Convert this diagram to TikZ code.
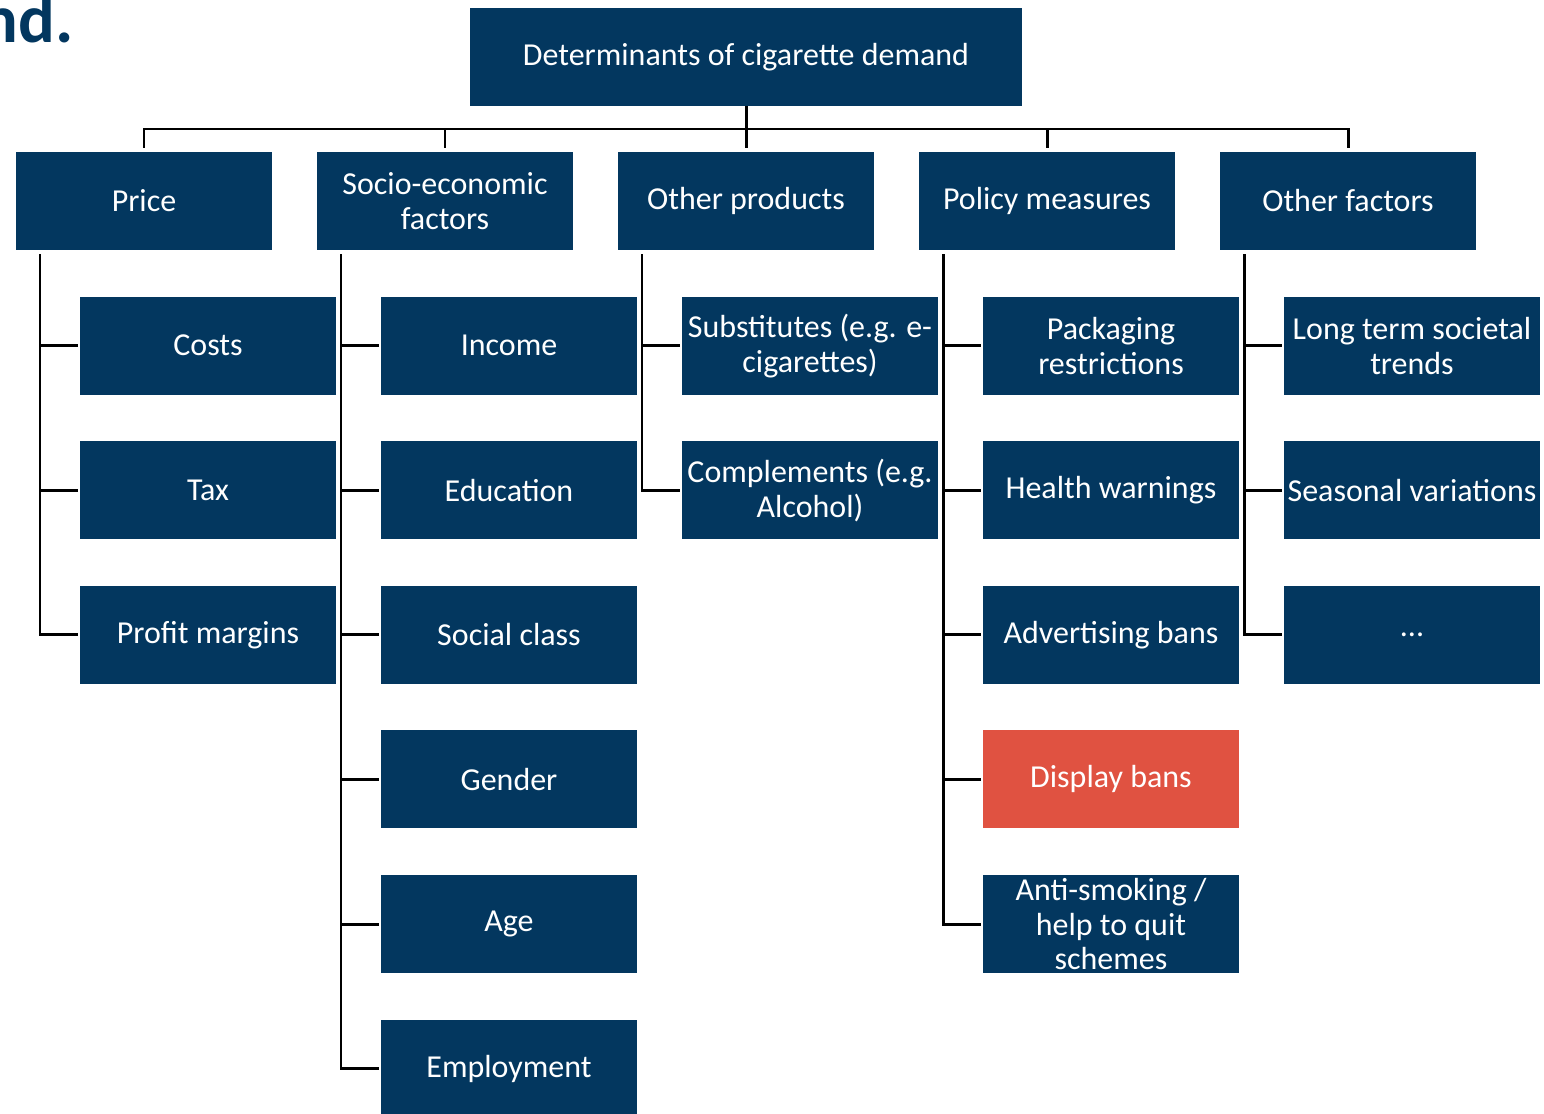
\documentclass[tikz,border=0pt]{standalone}
\usepackage{fontspec}
\setmainfont{Carlito}
\usetikzlibrary{positioning}
\definecolor{navy}{HTML}{03375F}
\definecolor{hilite}{HTML}{E05241}
\tikzset{
  box style/.style={rectangle, fill=navy, text=white, minimum width=5.12cm,
    minimum height=1.96cm, inner sep=1pt, outer sep=0pt, align=center,
    font=\fontsize{18.2}{19.9}\selectfont},
  red style/.style={box style, fill=hilite},
  link style/.style={line width=1.7pt, black}
}

\begin{document}
\begin{tikzpicture}[node distance=0.932cm]
\useasboundingbox (0,0) rectangle (30.88,-22.28);
\clip (0,0) rectangle (30.88,-22.28);
\node[anchor=base east, text=navy, font=\fontsize{39}{40}\selectfont\bfseries] (title) at (1.60,-0.84) {nd.};
\node[box style, minimum width=11.04cm] (top) at (14.92,-1.14) {Determinants of cigarette demand};
% first level
\node[box style] (price) at (2.88,-4.02) {Price};
\node[box style, right=0.9cm of price]   (socio)   {Socio-economic\\factors};
\node[box style, right=0.9cm of socio]   (other)   {Other products};
\node[box style, right=0.9cm of other]   (policy)  {Policy measures};
\node[box style, right=0.9cm of policy]  (factors) {Other factors};
% price
\node[box style, below=of price, xshift=1.28cm] (costs) {Costs};
\node[box style, below=of costs]   (tax)     {Tax};
\node[box style, below=of tax]     (margins) {Profit margins};
% socio-economic
\node[box style, below=of socio, xshift=1.28cm] (income) {Income};
\node[box style, below=of income]    (education)   {Education};
\node[box style, below=of education] (socialclass) {Social class};
\node[box style, below=of socialclass] (gender)    {Gender};
\node[box style, below=of gender]    (age)         {Age};
\node[box style, below=of age]       (employment)  {Employment};
% other products
\node[box style, below=of other, xshift=1.28cm] (substitutes) {Substitutes (e.g. e-\\cigarettes)};
\node[box style, below=of substitutes] (complements) {Complements (e.g.\\Alcohol)};
% policy
\node[box style, below=of policy, xshift=1.28cm] (packaging) {Packaging\\restrictions};
\node[box style, below=of packaging] (warnings)    {Health warnings};
\node[box style, below=of warnings]  (adbans)      {Advertising bans};
\node[red style, below=of adbans]    (displaybans) {Display bans};
\node[box style, below=of displaybans] (antismoking) {Anti-smoking /\\help to quit\\schemes};
% other factors
\node[box style, below=of factors, xshift=1.28cm] (trends) {Long term societal\\trends};
\node[box style, below=of trends]    (seasonal) {Seasonal variations};
\node[box style, below=of seasonal]  (more)     {...};
% connectors
\coordinate (bar) at ([yshift=-0.46cm]top.south);
\draw[link style] (top.south) -- (bar);
\foreach \n in {price,socio,other,policy,factors}
  \draw[link style, shorten >=0.08cm] (bar) -| (\n.north);
\foreach \p/\kids in {price/{costs,tax,margins},
    socio/{income,education,socialclass,gender,age,employment},
    other/{substitutes,complements},
    policy/{packaging,warnings,adbans,displaybans,antismoking},
    factors/{trends,seasonal,more}}
  \foreach \k in \kids
    \draw[link style, shorten >=0.04cm] ([xshift=0.48cm, yshift=-0.08cm]\p.south west) |- (\k.west);
\end{tikzpicture}
\end{document}
